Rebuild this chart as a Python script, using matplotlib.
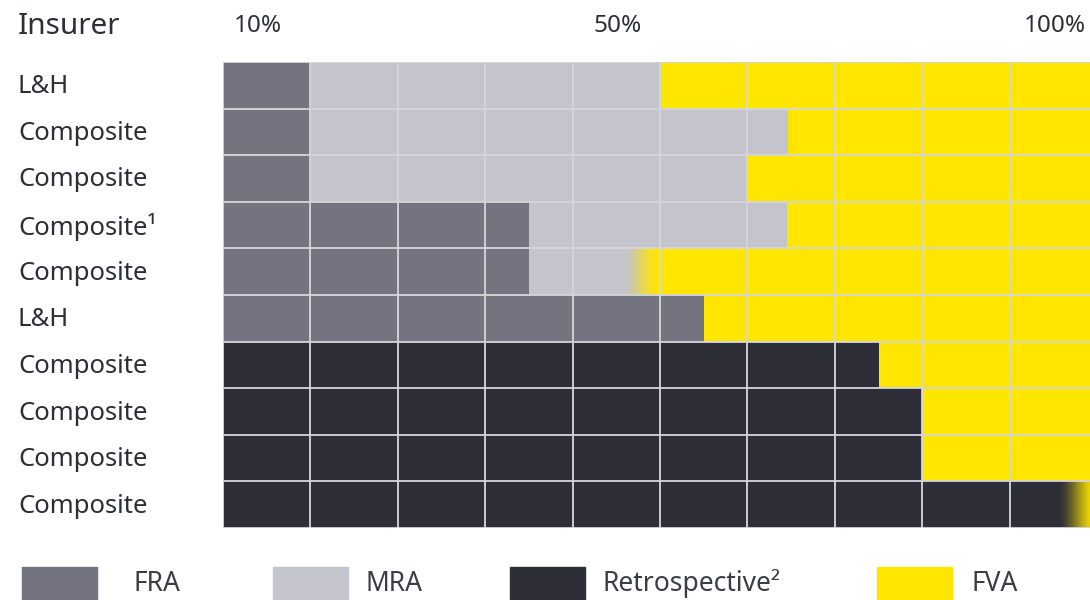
import matplotlib
matplotlib.use("Agg")
import matplotlib.pyplot as plt
import numpy as np
from matplotlib.colors import to_rgb
from matplotlib.patches import Rectangle

plt.rcParams['font.family'] = ['Noto Sans', 'DejaVu Sans']

# Transition approach per insurer (share of portfolio, %)
insurers = ["L&H", "Composite", "Composite", "Composite\u00b9", "Composite",
            "L&H", "Composite", "Composite", "Composite", "Composite"]
fra = [10, 10, 10, 35, 35, 55, 0, 0, 0, 0]
mra = [40, 54.6, 50, 29.5, 15, 0, 0, 0, 0, 0]
retro = [0, 0, 0, 0, 0, 0, 75, 80, 80, 100]
fva = [50, 35.4, 40, 35.5, 50, 45, 25, 20, 20, 0]

# Soft boundaries: (row, start %, end %, from series, to series)
fades = [(4, 45.5, 50.0, "MRA", "FVA"),
         (9, 95.4, 100.0, "Retrospective\u00b2", "FVA")]

series_names = ["FRA", "MRA", "Retrospective\u00b2", "FVA"]
series_vals = [fra, mra, retro, fva]
colors = {"FRA": "#747480", "MRA": "#c4c4cd",
          "Retrospective\u00b2": "#2e2e38", "FVA": "#ffe600"}
tick_labels = ["10%", "50%", "100%"]
tick_label_px = [258, 618, 1055]

TEXT = "#2e2e38"
LEG_TEXT = "#3c3c46"
GRID = "#d6d6da"
W, H = 1090, 600

fig = plt.figure(figsize=(W / 100, H / 100), dpi=100)
x0, x1, y0, y1 = 223, 1097, 62, 528
ax = fig.add_axes([x0 / W, 1 - y1 / H, (x1 - x0) / W, (y1 - y0) / H])

n = len(insurers)
ypos = np.arange(n)
left = np.zeros(n)
for name, vals in zip(series_names, series_vals):
    vals = np.asarray(vals, dtype=float)
    ax.barh(ypos, vals, left=left, height=1.0, color=colors[name],
            edgecolor="none", zorder=1)
    left += vals

# gradient blends between adjacent segments
for row, xs, xe, c_from, c_to in fades:
    a = np.array(to_rgb(colors[c_from]))
    b = np.array(to_rgb(colors[c_to]))
    t = np.linspace(0, 1, 256)
    t = t * t * (3 - 2 * t)
    grad = (a[None, :] * (1 - t[:, None]) + b[None, :] * t[:, None])[None, :, :]
    ax.imshow(grad, extent=[xs, xe, row + 0.5, row - 0.5], aspect="auto",
              interpolation="bilinear", zorder=2)

ax.set_xlim(0, 100)
ax.set_ylim(n - 0.5, -0.5)

# cell grid
for gx in range(0, 100, 10):
    ax.axvline(gx, color=GRID, lw=1.3, zorder=3)
for gy in np.arange(-0.5, n, 1.0):
    ax.axhline(gy, color=GRID, lw=1.3, zorder=3)

ax.set_xticks([])
ax.set_yticks([])
for s in ax.spines.values():
    s.set_visible(False)

# header
fig.text(18 / W, 1 - 26 / H, "Insurer", fontsize=21.5, color=TEXT,
         ha="left", va="center")
for lab, px in zip(tick_labels, tick_label_px):
    fig.text(px / W, 1 - 26 / H, lab, fontsize=17.5, color=TEXT,
             ha="center", va="center")

# row labels
row_h = (y1 - y0) / n
for i, lab in enumerate(insurers):
    yc = y0 + row_h * (i + 0.5) + 1.5
    fig.text(18 / W, 1 - yc / H, lab, fontsize=18.5, color=TEXT,
             ha="left", va="center")

# legend
leg_sq = [22, 273, 510, 877]
leg_txt = [133, 365, 603, 972]
for name, sx, tx in zip(series_names, leg_sq, leg_txt):
    fig.patches.append(Rectangle((sx / W, 1 - 600 / H), 75 / W, 33 / H,
                                 transform=fig.transFigure,
                                 color=colors[name]))
    fig.text(tx / W, 1 - 584 / H, name, fontsize=19, color=LEG_TEXT,
             ha="left", va="center")

fig.savefig("out.png", dpi=100)
